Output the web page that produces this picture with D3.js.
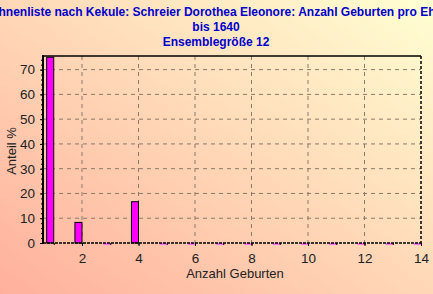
<html>
<head>
<meta charset="utf-8">
<title>Anzahl Geburten</title>
<style>
  body { margin: 0; overflow: hidden; }
  text { font-family: Arial, "Liberation Sans", sans-serif; }
</style>
</head>
<body>
<script src="https://cdn.jsdelivr.net/npm/d3@7"></script>
<script>
var width = 433, height = 294;

// Daten
var geburten = [1, 2, 3, 4, 5, 6, 7, 8, 9, 10, 11, 12, 13, 14];
var anteil   = [75, 8.33, 0, 16.67, 0, 0, 0, 0, 0, 0, 0, 0, 0, 0];
var xTicks = [2, 4, 6, 8, 10, 12, 14];
var yTicks = [0, 10, 20, 30, 40, 50, 60, 70];
var titel = ["Ahnenliste nach Kekule: Schreier Dorothea Eleonore: Anzahl Geburten pro Ehe",
             "bis 1640", "Ensemblegröße 12"];

var m = {left: 43, right: 421, top: 56, bottom: 243};

var svg = d3.select("body").append("svg")
    .attr("width", width)
    .attr("height", height);

// Hintergrund-Verlauf
var grad = svg.append("defs").append("linearGradient")
    .attr("id", "bg").attr("x1", "0").attr("y1", "1").attr("x2", "1").attr("y2", "0");
grad.append("stop").attr("offset", "0").attr("stop-color", "#ffb09c");
grad.append("stop").attr("offset", "1").attr("stop-color", "#ffffd2");
svg.append("rect").attr("width", width).attr("height", height).attr("fill", "url(#bg)");

var x = d3.scaleLinear().domain([0.62, 14]).range([m.left, m.right]);
var y = d3.scaleLinear().domain([0, 75.5]).range([m.bottom, m.top]);

// Gitter
svg.selectAll(".gy").data(yTicks.filter(d => d > 0)).enter().append("line")
    .attr("x1", m.left).attr("x2", m.right)
    .attr("y1", d => y(d)).attr("y2", d => y(d))
    .attr("stroke", "#8a7a6a").attr("stroke-dasharray", "4,4");
svg.selectAll(".gx").data(xTicks.filter(d => d < 14)).enter().append("line")
    .attr("x1", d => x(d)).attr("x2", d => x(d))
    .attr("y1", m.top).attr("y2", m.bottom)
    .attr("stroke", "#8a7a6a").attr("stroke-dasharray", "4,4");

// Balken
var bw = x(1) - x(0.75);
svg.selectAll(".bar").data(geburten.filter((d, i) => anteil[i] > 0)).enter().append("rect")
    .attr("x", d => x(d) - bw)
    .attr("y", d => y(anteil[d - 1]))
    .attr("width", bw)
    .attr("height", d => m.bottom - y(anteil[d - 1]))
    .attr("fill", "#ff00ff")
    .attr("stroke", "#000")
    .attr("stroke-width", 1);
svg.selectAll(".nul").data(geburten.filter((d, i) => anteil[i] === 0)).enter().append("rect")
    .attr("x", d => x(d) - bw)
    .attr("y", m.bottom)
    .attr("width", bw)
    .attr("height", 2)
    .attr("fill", "#ff70ff");

// Rahmen
svg.append("line").attr("x1", m.left).attr("x2", m.right).attr("y1", m.top).attr("y2", m.top)
    .attr("stroke", "#000").attr("stroke-width", 1.5);
svg.append("line").attr("x1", m.right).attr("x2", m.right).attr("y1", m.top).attr("y2", m.bottom)
    .attr("stroke", "#000").attr("stroke-width", 1.5).attr("stroke-dasharray", "3,2");
svg.append("line").attr("x1", m.left).attr("x2", m.right).attr("y1", m.bottom).attr("y2", m.bottom)
    .attr("stroke", "#000").attr("stroke-width", 1.5).attr("stroke-dasharray", "3,1");

// Achsen
var yAxis = svg.append("g").attr("transform", "translate(" + m.left + ",0)")
    .call(d3.axisLeft(y).tickValues(yTicks).tickSize(3).tickPadding(5));
var yMinor = svg.append("g").attr("transform", "translate(" + m.left + ",0)")
    .call(d3.axisLeft(y).tickValues(d3.range(0, 76, 2)).tickSize(2).tickFormat(""));
var xAxis = svg.append("g").attr("transform", "translate(0," + m.bottom + ")")
    .call(d3.axisBottom(x).tickValues(xTicks).tickSize(3).tickPadding(7));
var xMinor = svg.append("g").attr("transform", "translate(0," + m.bottom + ")")
    .call(d3.axisBottom(x).tickValues(d3.range(1, 15)).tickSize(2).tickFormat(""));
[yAxis, yMinor, xAxis, xMinor].forEach(function(g) {
    g.select(".domain").remove();
    g.selectAll("line").attr("stroke", "#000");
});
svg.append("line").attr("x1", m.left).attr("x2", m.left).attr("y1", m.top - 1).attr("y2", m.bottom + 1)
    .attr("stroke", "#000").attr("stroke-width", 2);
svg.selectAll(".tick text").attr("font-size", 13.5).attr("fill", "#222")
    .attr("font-family", "Arial, 'Liberation Sans', sans-serif");

// Beschriftung
svg.append("text").attr("x", 235).attr("y", 278).attr("text-anchor", "middle")
    .attr("font-size", 13).attr("fill", "#222").text("Anzahl Geburten");
svg.append("text").attr("transform", "translate(16,151) rotate(-90)").attr("text-anchor", "middle")
    .attr("font-size", 13).attr("fill", "#222").text("Anteil %");

svg.selectAll(".titel").data(titel).enter().append("text")
    .attr("x", 216).attr("y", (d, i) => 16 + i * 15)
    .attr("text-anchor", "middle")
    .attr("font-size", 12).attr("font-weight", "bold").attr("fill", "#0000cc")
    .text(d => d);
</script>
</body>
</html>
